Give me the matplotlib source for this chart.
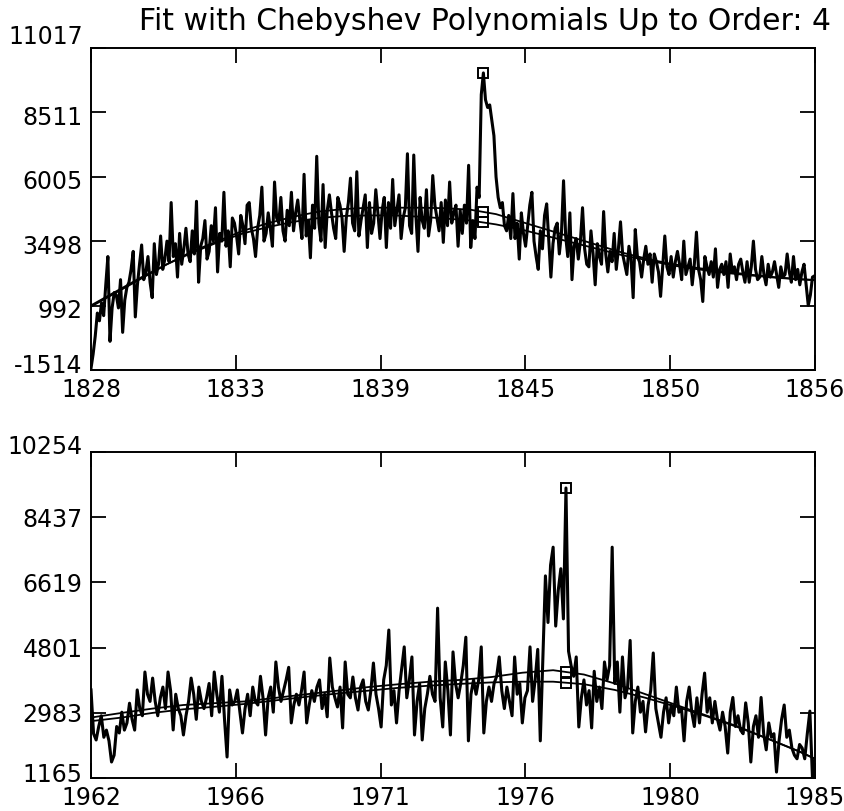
import numpy as np
import matplotlib
matplotlib.use('Agg')
import matplotlib.pyplot as plt
from matplotlib.transforms import ScaledTranslation

# monthly samples, one row per year
top_start = 1828.0
top_end = 1856.6
top_vals = [
	-1450, -900, -200, 700, 400, 1100, 600, 1800, 2900, -400, 900, 1500,
	1400, 900, 2000, -50, 1200, 1700, 1900, 2400, 3100, 550, 1800, 2600,
	3350, 2000, 2300, 2900, 1900, 1300, 3400, 2200, 2600, 3700, 2400, 2800,
	3500, 2700, 5000, 2900, 3400, 2100, 3800, 2600, 3200, 4000, 3000, 2700,
	3900, 3000, 5050, 1900, 3300, 3600, 4300, 2800, 3100, 4100, 3500, 4800,
	2300, 3800, 3500, 5400, 3300, 3900, 2500, 4400, 4200, 3700, 3000, 4500,
	4100, 3400, 4900, 5000, 4000, 3600, 2900, 4000, 4500, 5600, 3500, 3800,
	4600, 4000, 3300, 5800, 4400, 4200, 5200, 3900, 3500, 4700, 4100, 5400,
	3900, 4600, 5100, 4300, 3600, 6100, 3700, 4300, 2850, 4900, 4000, 6800,
	4200, 3500, 5700, 3250, 4700, 5300, 4600, 4000, 3600, 5200, 4900, 4400,
	3100, 4400, 5000, 5950, 4200, 3900, 6200, 3700, 4300, 4800, 5300, 3250,
	5000, 3800, 4200, 5500, 4600, 3600, 4700, 5200, 3250, 5000, 4000, 5900,
	4100, 4700, 5300, 3600, 4400, 4800, 6900, 4100, 3800, 6850, 4500, 3100,
	5200, 4300, 4000, 5500, 3700, 4300, 6050, 4900, 4400, 3900, 5000, 3450,
	5100, 4100, 5800, 4200, 4600, 4900, 3300, 4700, 3800, 4900, 4200, 6450,
	3250, 4300, 3600, 5600, 5200, 9200, 10044, 9000, 8700, 8800, 8200, 7600,
	6000, 5200, 4800, 5000, 4100, 3900, 4500, 3600, 5350, 3600, 4200, 2800,
	4600, 3800, 3300, 4100, 4900, 5400, 3500, 2900, 2400, 3900, 3200, 4500,
	4950, 3500, 2100, 3400, 4000, 4200, 3000, 3800, 5850, 3700, 2900, 4600,
	2000, 3300, 3600, 2800, 3500, 4800, 3200, 2600, 2500, 3900, 3000, 1800,
	3400, 2900, 2600, 4650, 3000, 2300, 3100, 2700, 3800, 2400, 3200, 4250,
	3000, 2600, 2200, 3300, 2800, 1300, 3950, 2900, 2700, 2100, 2800, 3300,
	2600, 3000, 1900, 3000, 2700, 2300, 1350, 2500, 3700, 2500, 2200, 2900,
	2100, 2700, 3100, 2600, 2000, 3500, 2200, 2500, 2800, 1800, 2600, 3850,
	2400, 2000, 1150, 2900, 2500, 2200, 2700, 2100, 3200, 1700, 2400, 2600,
	2200, 2700, 1700, 3000, 2300, 2500, 2000, 2600, 2800, 2300, 1900, 2700,
	1900, 2500, 3500, 2400, 2000, 2100, 2900, 2200, 1800, 2600, 2100, 2300,
	2700, 2200, 1700, 2500, 2100, 2200, 3000, 2300, 1900, 2900, 2000, 2400,
	1800, 2300, 2600, 1800, 1000, 1400, 2100, 2150, 2150,
]
top_fit_years = [1828, 1829, 1830, 1831, 1832, 1833, 1834, 1835, 1836, 1837,
	1838, 1839, 1840, 1841, 1842, 1843, 1844, 1845, 1846, 1847, 1848, 1849,
	1850, 1851, 1852, 1853, 1854, 1855, 1856, 1856.6]
top_fit_a = [950, 1500, 2050, 2600, 3100, 3500, 3900, 4200, 4450, 4650,
	4750, 4800, 4800, 4800, 4780, 4720, 4550, 4250, 3950, 3650, 3350, 3050,
	2800, 2600, 2450, 2320, 2200, 2100, 2020, 1990]
top_fit_b = [1000, 1550, 2100, 2600, 3050, 3450, 3800, 4050, 4250, 4400,
	4480, 4500, 4500, 4450, 4380, 4300, 4150, 3950, 3700, 3450, 3200, 2950,
	2750, 2550, 2400, 2270, 2170, 2080, 2010, 1980]
top_yticks = [-1514, 992, 3498, 6005, 8511, 11017]
top_xlabels = ['1828', '1833', '1839', '1845', '1850', '1856']

bot_start = 1962.0
bot_end = 1985.5
bot_vals = [
	3620, 2400, 2225, 2600, 2900, 2300, 2500, 2200, 1611, 1800, 2600, 2420,
	3000, 2500, 2700, 3250, 2800, 2500, 3620, 3100, 2900, 4120, 3500, 3300,
	3950, 3300, 2900, 3400, 3700, 3100, 4120, 3600, 2504, 3500, 3100, 2900,
	2364, 2900, 3300, 3950, 3500, 2800, 3700, 3300, 3100, 3400, 3800, 2900,
	4120, 3500, 3000, 4000, 2800, 1750, 3620, 3200, 3300, 3620, 3000, 2420,
	3100, 3500, 2900, 3700, 3300, 3200, 4000, 3400, 2364, 3400, 3700, 3000,
	4400, 3700, 3300, 3600, 3900, 4250, 2700, 3200, 3500, 3200, 3600, 4120,
	2700, 3200, 3600, 3300, 3700, 3900, 3100, 3500, 2870, 4510, 3700, 3400,
	3145, 3700, 2560, 4400, 3500, 3400, 3980, 3400, 3060, 3700, 3900, 3300,
	3060, 3600, 4370, 3500, 3100, 2587, 3900, 4300, 5290, 3200, 3600, 2700,
	3600, 4200, 4820, 3400, 3900, 4540, 2364, 3300, 3800, 2225, 3100, 3500,
	4000, 3500, 3300, 5900, 3400, 2587, 4400, 3600, 2364, 4680, 3800, 3400,
	3800, 4300, 5090, 2200, 3500, 3900, 3500, 3900, 4820, 2420, 3300, 3700,
	3300, 3800, 4000, 4540, 3600, 3100, 3700, 3300, 2900, 4540, 3500, 3800,
	2700, 3400, 3600, 4820, 3300, 3900, 4750, 2200, 4500, 6800, 5500, 7100,
	7600, 5400, 6400, 7000, 5600, 9250, 4700, 4300, 4000, 4540, 2587, 3400,
	3900, 3200, 3600, 2560, 4140, 3300, 3700, 3100, 4400, 3900, 4300, 7600,
	3800, 4400, 3000, 4540, 3400, 3700, 5000, 2420, 3300, 3700, 3000, 3300,
	2450, 3200, 3600, 4650, 3100, 2700, 2300, 3000, 3400, 2700, 3200, 2900,
	3700, 3000, 3100, 2200, 3300, 3700, 3000, 2600, 3400, 2700, 3500, 4090,
	3000, 3400, 2700, 3300, 2800, 2500, 3000, 2600, 1860, 3000, 3410, 2600,
	2900, 2500, 2400, 3260, 2700, 1610, 2600, 2900, 2300, 3410, 2400, 1950,
	2700, 2300, 2400, 1330, 2200, 2800, 3200, 2300, 2500, 2000, 1800, 1700,
	2100, 2000, 1700, 2400, 3030, 1190, 1700,
]
bot_fit_years = [1962, 1963, 1964, 1965, 1966, 1967, 1968, 1969, 1970, 1971,
	1972, 1973, 1974, 1975, 1976, 1977, 1978, 1979, 1980, 1981, 1982, 1983,
	1984, 1985, 1985.5]
bot_fit_a = [2850, 2980, 3100, 3200, 3250, 3300, 3400, 3500, 3600, 3700,
	3780, 3850, 3900, 3980, 4100, 4170, 4050, 3800, 3500, 3200, 2900, 2600,
	2250, 1900, 1700]
bot_fit_b = [2750, 2850, 2980, 3080, 3150, 3230, 3330, 3430, 3520, 3600,
	3680, 3740, 3790, 3830, 3850, 3850, 3780, 3620, 3400, 3150, 2880, 2580,
	2250, 1900, 1700]
bot_yticks = [1165, 2983, 4801, 6619, 8437, 10254]
bot_xlabels = ['1962', '1966', '1971', '1976', '1980', '1985']

plt.rcParams['font.family'] = 'DejaVu Sans'

fig = plt.figure(figsize=(8.45, 8.11), dpi=100)
ax1 = fig.add_axes([0.1077, 0.5438, 0.8568, 0.3971])
ax2 = fig.add_axes([0.1077, 0.0407, 0.8568, 0.4020])

fig.text(0.574, 0.974, 'Fit with Chebyshev Polynomials Up to Order: 4',
	ha='center', va='center', fontsize=21.5)


def panel(ax, start, end, vals, fit_x, fit_a, fit_b, yticks, xlabels, yshift):
	vals = np.array(vals, dtype=float)
	t = start + np.arange(len(vals)) / 12.0
	ax.plot(t, vals, color='black', lw=2.2)
	ax.plot(fit_x, fit_a, color='black', lw=1.3)
	ax.plot(fit_x, fit_b, color='black', lw=1.3)

	# mark the maximum and both fits at that time
	k = np.argmax(vals)
	tk = t[k]
	sq = dict(marker='s', ms=7.8, mfc='none', mec='black', mew=1.4, ls='none')
	ax.plot([tk], [vals[k]], **sq)
	ax.plot([tk], [np.interp(tk, fit_x, fit_a)], **sq)
	ax.plot([tk], [np.interp(tk, fit_x, fit_b)], **sq)

	ax.set_xlim(start, end)
	ax.set_ylim(yticks[0], yticks[-1])
	ax.set_xticks(np.linspace(start, end, 6))
	ax.set_xticklabels(xlabels)
	ax.set_yticks(yticks)
	ax.set_yticklabels([str(v) for v in yticks])
	ax.tick_params(direction='in', length=11, width=1.3, top=True, right=True,
		labelsize=17, pad=6)
	for s in ax.spines.values():
		s.set_linewidth(1.4)
	for lab, dy in zip(ax.get_yticklabels(), yshift):
		lab.set_transform(lab.get_transform() + ScaledTranslation(0, dy / 100.0, fig.dpi_scale_trans))


panel(ax1, top_start, top_end, top_vals, top_fit_years, top_fit_a, top_fit_b,
	top_yticks, top_xlabels, [6, -3, -3, -3, -3, 13])
panel(ax2, bot_start, bot_end, bot_vals, bot_fit_years, bot_fit_a, bot_fit_b,
	bot_yticks, bot_xlabels, [5, 0, 0, 0, 0, 7])

fig.savefig('out.png', dpi=100)
